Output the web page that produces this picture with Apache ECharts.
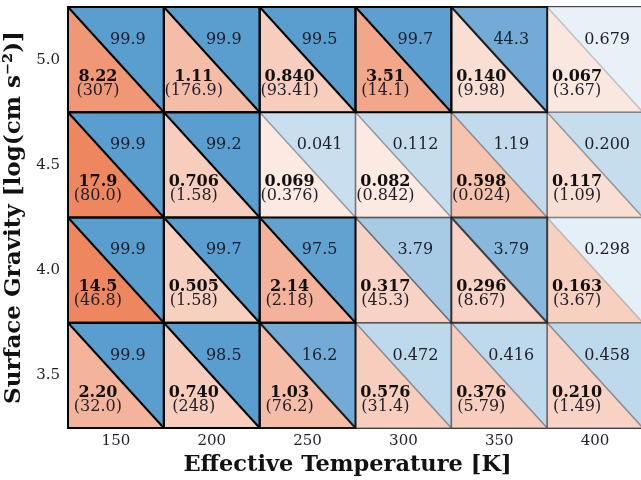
<!DOCTYPE html>
<html>
<head>
<meta charset="utf-8">
<script src="https://cdn.jsdelivr.net/npm/echarts@6/dist/echarts.min.js"></script>
<style>html,body{margin:0;padding:0;background:#fff}#c{width:641px;height:480px}</style>
</head>
<body>
<div id="c"></div>
<script>
// ---- data (rows: gravity top to bottom, cols: temperature) ----
const temps = [150, 200, 250, 300, 350, 400];
const gravities = [5.0, 4.5, 4.0, 3.5];
const xTicks = [150, 200, 250, 300, 350, 400];
const yTicks = [3.5, 4.0, 4.5, 5.0];

const upperValues = [
  ["99.9", "99.9", "99.5", "99.7", "44.3", "0.679"],
  ["99.9", "99.2", "0.041", "0.112", "1.19", "0.200"],
  ["99.9", "99.7", "97.5", "3.79", "3.79", "0.298"],
  ["99.9", "98.5", "16.2", "0.472", "0.416", "0.458"]
];
const lowerBold = [
  ["8.22", "1.11", "0.840", "3.51", "0.140", "0.067"],
  ["17.9", "0.706", "0.069", "0.082", "0.598", "0.117"],
  ["14.5", "0.505", "2.14", "0.317", "0.296", "0.163"],
  ["2.20", "0.740", "1.03", "0.576", "0.376", "0.210"]
];
const lowerParen = [
  ["307", "176.9", "93.41", "14.1", "9.98", "3.67"],
  ["80.0", "1.58", "0.376", "0.842", "0.024", "1.09"],
  ["46.8", "1.58", "2.18", "45.3", "8.67", "3.67"],
  ["32.0", "248", "76.2", "31.4", "5.79", "1.49"]
];
// colour intensity (0 = white, 1 = full)
const blueShade = [
  [1.00, 1.00, 1.00, 0.98, 0.85, 0.08],
  [1.00, 1.00, 0.28, 0.30, 0.33, 0.30],
  [1.00, 1.00, 0.95, 0.50, 0.70, 0.10],
  [1.00, 1.00, 0.85, 0.35, 0.35, 0.35]
];
const orangeShade = [
  [0.85, 0.50, 0.35, 0.70, 0.20, 0.12],
  [1.00, 0.35, 0.10, 0.10, 0.45, 0.20],
  [1.00, 0.33, 0.60, 0.30, 0.30, 0.33],
  [0.58, 0.35, 0.50, 0.35, 0.35, 0.30]
];

// ---- build series data ----
const lowerData = [], upperData = [], edgeData = [], labelIdx = [];
gravities.forEach((g, r) => {
  temps.forEach((t, c) => {
    lowerData.push([t, g, orangeShade[r][c]]);
    upperData.push([t, g, blueShade[r][c]]);
    edgeData.push([t, g, blueShade[r][c]]);
    labelIdx.push([r, c]);
  });
});

const FONT = 'DejaVu Serif';
const TXT = '#1f1f2a';
const CELL_FS = 16;

function corners(api) {
  const t = api.value(0), g = api.value(1);
  return {
    tl: api.coord([t - 25, g + 0.25]),
    tr: api.coord([t + 25, g + 0.25]),
    bl: api.coord([t - 25, g - 0.25]),
    br: api.coord([t + 25, g - 0.25]),
    c: api.coord([t, g])
  };
}

const chart = echarts.init(document.getElementById('c'), null, {renderer: 'canvas'});
chart.setOption({
  backgroundColor: '#fff',
  animation: false,
  grid: {left: 68, right: -2, top: 7, bottom: 52, containLabel: false, outerBoundsMode: 'none'},
  xAxis: [{
    type: 'value', min: 125, max: 425, position: 'bottom',
    axisLine: {show: true, onZero: false, lineStyle: {color: '#000', width: 2}},
    axisTick: {show: true, inside: true, length: 9, lineStyle: {color: '#000', width: 2}, customValues: xTicks},
    axisLabel: {show: true, customValues: xTicks, fontFamily: FONT, fontSize: 15, color: TXT, margin: 6},
    splitLine: {show: false},
    name: 'Effective Temperature [K]', nameLocation: 'middle', nameGap: 23,
    nameTextStyle: {fontFamily: FONT, fontWeight: 'bold', fontSize: 22.5, color: '#111', padding: [0, 16, 0, 0]}
  }, {
    type: 'value', min: 125, max: 425, position: 'top',
    axisLine: {show: true, onZero: false, lineStyle: {color: '#000', width: 2}},
    axisTick: {show: true, inside: true, length: 9, lineStyle: {color: '#000', width: 2}, customValues: xTicks},
    axisLabel: {show: false}, splitLine: {show: false}
  }],
  yAxis: [{
    type: 'value', min: 3.25, max: 5.25, position: 'left',
    axisLine: {show: true, onZero: false, lineStyle: {color: '#000', width: 2}},
    axisTick: {show: true, inside: true, length: 9, lineStyle: {color: '#000', width: 2}, customValues: yTicks},
    axisLabel: {show: true, customValues: yTicks, fontFamily: FONT, fontSize: 15, color: TXT, margin: 8,
      formatter: v => v.toFixed(1)},
    splitLine: {show: false},
    name: 'Surface Gravity [log(cm s\u207B\u00B2)]', nameLocation: 'middle', nameGap: 36,
    nameTextStyle: {fontFamily: FONT, fontWeight: 'bold', fontSize: 23, color: '#111'}
  }, {
    type: 'value', min: 3.25, max: 5.25, position: 'right',
    axisLine: {show: true, onZero: false, lineStyle: {color: '#000', width: 2}},
    axisTick: {show: true, inside: true, length: 9, lineStyle: {color: '#000', width: 2}, customValues: yTicks},
    axisLabel: {show: false}, splitLine: {show: false}
  }],
  visualMap: [{
    type: 'continuous', show: false, seriesIndex: 0, dimension: 2, min: 0, max: 1,
    inRange: {color: ['#fcf4f0', '#ee8660']}
  }, {
    type: 'continuous', show: false, seriesIndex: 1, dimension: 2, min: 0, max: 1,
    inRange: {color: ['#f4f8fb', '#5a9dcf']}
  }],
  series: [{
    type: 'custom', name: 'lower', data: lowerData, encode: {x: 0, y: 1},
    renderItem: (params, api) => {
      const p = corners(api);
      const [r, c] = labelIdx[params.dataIndex];
      return {type: 'group', children: [
        {type: 'polygon', shape: {points: [p.tl, p.bl, p.br]}, style: {fill: api.visual('color'), stroke: api.visual('color'), lineWidth: 0.5}},
        {type: 'text', z2: 5, style: {text: lowerBold[r][c], x: p.c[0] - 18, y: p.c[1] + 17, align: 'center', verticalAlign: 'middle',
          font: 'bold ' + CELL_FS + 'px "' + FONT + '"', fill: '#111'}},
        {type: 'text', z2: 5, style: {text: '(' + lowerParen[r][c] + ')', x: p.c[0] - 18, y: p.c[1] + 31, align: 'center', verticalAlign: 'middle',
          font: CELL_FS + 'px "' + FONT + '"', fill: TXT}}
      ]};
    }
  }, {
    type: 'custom', name: 'upper', data: upperData, encode: {x: 0, y: 1},
    renderItem: (params, api) => {
      const p = corners(api);
      const [r, c] = labelIdx[params.dataIndex];
      return {type: 'group', children: [
        {type: 'polygon', shape: {points: [p.tl, p.tr, p.br]}, style: {fill: api.visual('color'), stroke: api.visual('color'), lineWidth: 0.5}},
        {type: 'text', z2: 5, style: {text: upperValues[r][c], x: p.c[0] + 12, y: p.c[1] - 20, align: 'center', verticalAlign: 'middle',
          font: CELL_FS + 'px "' + FONT + '"', fill: TXT}}
      ]};
    }
  }, {
    type: 'custom', name: 'edges', data: edgeData, encode: {x: 0, y: 1}, silent: true,
    renderItem: (params, api) => {
      const p = corners(api);
      const s = api.value(2);
      const a = Math.min(1, 0.3 + 0.75 * s);
      const g = Math.round(120 * (1 - s));
      const col = 'rgba(' + g + ',' + g + ',' + g + ',' + a.toFixed(2) + ')';
      return {type: 'group', z2: Math.round(s * 100), children: [
        {type: 'polygon', z2: Math.round(s * 100), shape: {points: [p.tl, p.tr, p.br, p.bl]},
          style: {fill: 'none', stroke: col, lineWidth: s > 0.6 ? 2 : 1.5}},
        {type: 'line', z2: Math.round(s * 100), shape: {x1: p.tl[0], y1: p.tl[1], x2: p.br[0], y2: p.br[1]},
          style: {stroke: col, lineWidth: s > 0.6 ? 2 : 1.5}}
      ]};
    }
  }]
});
</script>
</body>
</html>
